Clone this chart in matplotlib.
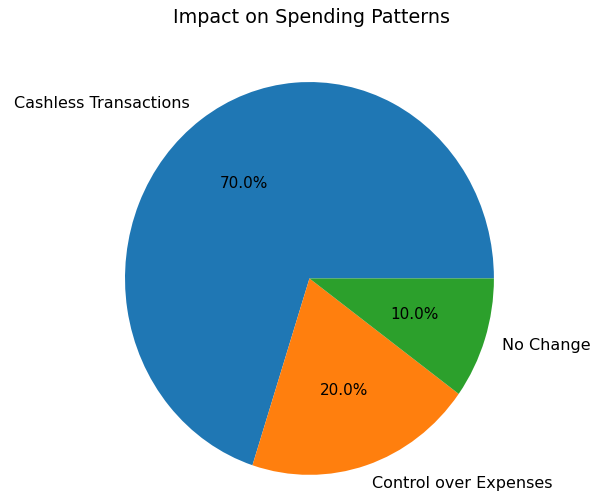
import matplotlib.pyplot as plt

labels = ['Cashless Transactions', 'Control over Expenses', 'No Change']
sizes = [70, 20, 10]

fig = plt.figure(figsize=(5.95, 4.99), dpi=100)
# pie() sets limits to +/-1.25, so the axes box is sized around that
ax = fig.add_axes([0.1326, -0.050, 0.775, 0.984])
ax.pie(sizes, labels=labels, autopct='%1.1f%%',
       textprops={'fontsize': 11.5})
ax.set_aspect('auto')  # slightly taller than wide
for t in ax.texts:
    if t.get_text().endswith('%'):
        t.set_fontsize(11)

fig.text(0.523, 0.965, 'Impact on Spending Patterns', ha='center', va='center', fontsize=13.8)

plt.savefig('out.png', dpi=100)
